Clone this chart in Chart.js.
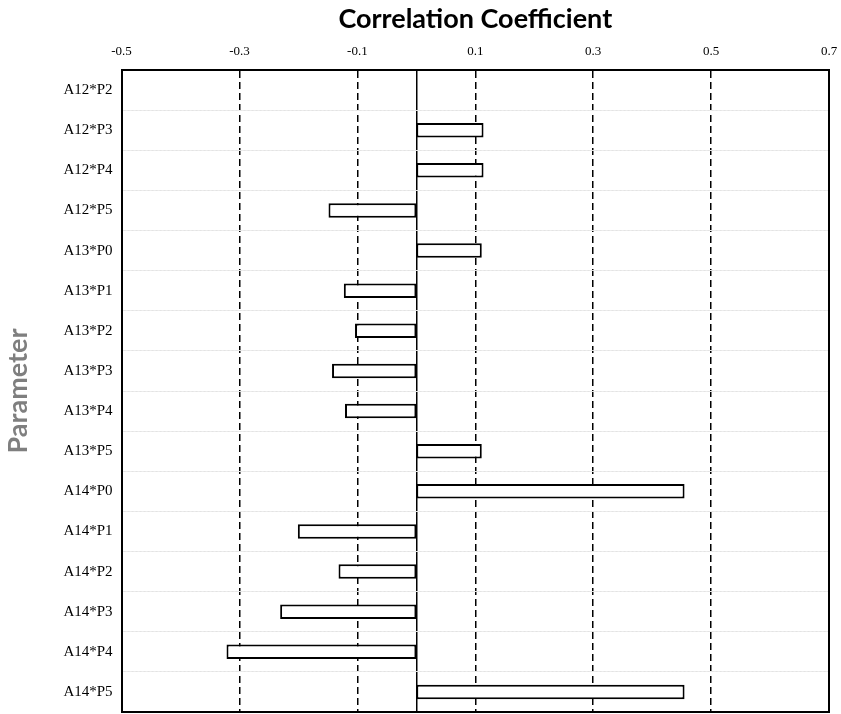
<!DOCTYPE html>
<html>
<head>
<meta charset="utf-8">
<script src="https://cdn.jsdelivr.net/npm/chart.js@4.4.0/dist/chart.umd.min.js"></script>
<style>
  html, body { margin: 0; padding: 0; background: #fff; }
</style>
</head>
<body>
<canvas id="mycanvas" width="841" height="714"></canvas>
<script>
// values
var parameters = ["A12*P2", "A12*P3", "A12*P4", "A12*P5", "A13*P0", "A13*P1", "A13*P2", "A13*P3",
                  "A13*P4", "A13*P5", "A14*P0", "A14*P1", "A14*P2", "A14*P3", "A14*P4", "A14*P5"];
var coefficients = [0, 0.114, 0.114, -0.149, 0.111, -0.123, -0.104, -0.143,
                    -0.121, 0.111, 0.455, -0.201, -0.132, -0.231, -0.322, 0.455];
var xTicks = [-0.5, -0.3, -0.1, 0.1, 0.3, 0.5, 0.7];
var zeroLine = [0];

var serif = "'Liberation Serif', 'Times New Roman', serif";
var sans = "Lato, 'Open Sans', sans-serif";

// the axes reserve room for half a label at their ends; the frame here doesn't need it
function noEndPadding(scale) {
    scale.paddingTop = 0;
    scale.paddingBottom = 0;
    scale.paddingLeft = 0;
    scale.paddingRight = 0;
}

var ctx = document.getElementById("mycanvas");
var barGraph = new Chart(ctx, {
    type: 'bar',
    data: {
        labels: parameters,
        datasets: [{
            data: coefficients,
            yAxisID: 'y',
            xAxisID: 'x',
            backgroundColor: '#ffffff',
            borderColor: '#000000',
            borderWidth: 2,
            borderSkipped: false,
            barPercentage: 0.36,
            categoryPercentage: 1
        }]
    },
    options: {
        indexAxis: 'y',
        responsive: false,
        animation: false,
        layout: { padding: { left: 0, right: 12, top: 1, bottom: 2 } },
        plugins: {
            legend: { display: false },
            tooltip: { enabled: false }
        },
        scales: {
            x: {
                type: 'linear',
                position: 'top',
                min: -0.5,
                max: 0.7,
                z: 1,
                afterBuildTicks: function(scale) {
                    scale.ticks = xTicks.map(function(v) { return { value: v }; });
                },
                afterFit: noEndPadding,
                ticks: {
                    color: '#000',
                    padding: 12,
                    font: { family: serif, size: 13, lineHeight: 1 },
                    callback: function(v) { return Number(v).toFixed(1); }
                },
                grid: {
                    drawTicks: false,
                    lineWidth: 1.5,
                    color: function(c) {
                        if (!c.tick) return '#000';
                        return (c.tick.value === -0.5 || c.tick.value === 0.7) ? 'rgba(0,0,0,0)' : '#000';
                    }
                },
                border: { display: true, color: '#000', width: 2, dash: [7, 4] },
                title: {
                    display: true,
                    text: 'Correlation Coefficient',
                    color: '#000',
                    font: { family: sans, size: 27, weight: 'bold', lineHeight: 1 },
                    padding: { top: 5, bottom: 0 }
                }
            },
            x2: {
                type: 'linear',
                position: 'bottom',
                min: -0.5,
                max: 0.7,
                z: 1,
                afterBuildTicks: function(scale) {
                    scale.ticks = zeroLine.map(function(v) { return { value: v }; });
                },
                afterFit: noEndPadding,
                ticks: { display: false },
                grid: { drawTicks: false, lineWidth: 1.5, color: '#000' },
                border: { display: true, color: '#000', width: 2 }
            },
            y: {
                type: 'category',
                position: 'left',
                afterFit: noEndPadding,
                ticks: {
                    color: '#000',
                    padding: 9,
                    font: { family: serif, size: 15 }
                },
                grid: { drawTicks: false, lineWidth: 1, color: '#e3e3e3' },
                border: { display: true, color: '#000', width: 2 },
                title: {
                    display: true,
                    text: 'Parameter',
                    color: '#7f7f7f',
                    font: { family: sans, size: 27, weight: 'bold' },
                    padding: { top: 2, bottom: 20 }
                }
            },
            y2: {
                type: 'category',
                position: 'right',
                labels: parameters,
                offset: true,
                afterFit: noEndPadding,
                ticks: { display: false },
                grid: { offset: true, drawTicks: false, lineWidth: 1, color: '#ececec' },
                border: { display: true, color: '#000', width: 2, dash: [2, 2] }
            }
        }
    }
});
</script>
</body>
</html>
